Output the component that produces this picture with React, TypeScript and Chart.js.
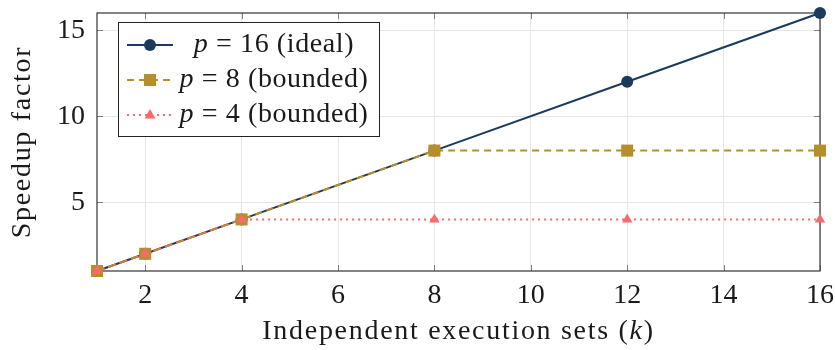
import React, { useEffect, useRef } from "react";
import { Chart, registerables } from "chart.js";

Chart.register(...registerables);

const xValues = [1, 2, 4, 8, 12, 16];
const idealSpeedup = [1, 2, 4, 8, 12, 16];
const bounded8 = [1, 2, 4, 8, 8, 8];
const bounded4 = [1, 2, 4, 4, 4, 4];
const xTicks = [2, 4, 6, 8, 10, 12, 14, 16];
const yTicks = [5, 10, 15];
const seriesNames = [" = 16 (ideal)", " = 8 (bounded)", " = 4 (bounded)"];

const NAVY = "#1b3a5e";
const GOLD = "#b68f2c";
const RED = "#f76b6b";
const FONT = "Liberation Serif";
const FS = 28;

function drawMarker(ctx: CanvasRenderingContext2D, style: string, x: number, y: number, color: string) {
  ctx.save();
  ctx.fillStyle = color;
  ctx.beginPath();
  if (style === "circle") {
    ctx.arc(x, y, 6, 0, Math.PI * 2);
  } else if (style === "rect") {
    ctx.rect(x - 6, y - 6, 12, 12);
  } else {
    ctx.moveTo(x, y - 6);
    ctx.lineTo(x + 5.5, y + 3.5);
    ctx.lineTo(x - 5.5, y + 3.5);
    ctx.closePath();
  }
  ctx.fill();
  ctx.restore();
}

const decorPlugin = {
  id: "decor",
  beforeDatasetsDraw(chart: any) {
    const { ctx, chartArea } = chart;
    const { left, right, top, bottom } = chartArea;
    const xs = chart.scales.x;
    const ys = chart.scales.y;
    ctx.save();
    ctx.strokeStyle = "#808080";
    ctx.lineWidth = 1;
    const tl = 6;
    ctx.beginPath();
    xTicks.forEach((v) => {
      const px = Math.round(xs.getPixelForValue(v)) + 0.5;
      ctx.moveTo(px, bottom);
      ctx.lineTo(px, bottom - tl);
      ctx.moveTo(px, top);
      ctx.lineTo(px, top + tl);
    });
    yTicks.forEach((v) => {
      const py = Math.round(ys.getPixelForValue(v)) + 0.5;
      ctx.moveTo(left, py);
      ctx.lineTo(left + tl, py);
      ctx.moveTo(right, py);
      ctx.lineTo(right - tl, py);
    });
    ctx.stroke();
    ctx.strokeStyle = "#333333";
    ctx.lineWidth = 1.2;
    ctx.strokeRect(left, top, right - left, bottom - top);
    ctx.restore();
  },
  afterDraw(chart: any) {
    const { ctx, chartArea } = chart;
    ctx.save();
    ctx.fillStyle = "#1a1a1a";
    ctx.textBaseline = "middle";
    // x title with italic k
    ctx.letterSpacing = "1.7px";
    const parts: [string, string][] = [
      ["Independent execution sets (", "normal"],
      ["k", "italic"],
      [")", "normal"],
    ];
    let total = 0;
    parts.forEach(([t, s]) => {
      ctx.font = `${s} ${FS}px "${FONT}"`;
      total += ctx.measureText(t).width;
    });
    let cx = (chartArea.left + chartArea.right) / 2 - total / 2;
    parts.forEach(([t, s]) => {
      ctx.font = `${s} ${FS}px "${FONT}"`;
      ctx.textAlign = "left";
      ctx.fillText(t, cx, 332);
      cx += ctx.measureText(t).width;
    });
    // y title
    ctx.save();
    ctx.translate(23, (chartArea.top + chartArea.bottom) / 2);
    ctx.rotate(-Math.PI / 2);
    ctx.font = `normal ${FS}px "${FONT}"`;
    ctx.textAlign = "center";
    ctx.fillText("Speedup factor", 0, 0);
    ctx.restore();

    // legend
    ctx.letterSpacing = "0.6px";
    const bx = 118.5, by = 22.5, bw = 261, bh = 114;
    ctx.fillStyle = "#ffffff";
    ctx.fillRect(bx, by, bw, bh);
    ctx.strokeStyle = "#222222";
    ctx.lineWidth = 1;
    ctx.strokeRect(bx, by, bw, bh);
    const rows = [45, 80, 115];
    chart.data.datasets.forEach((ds: any, i: number) => {
      const y = rows[i];
      ctx.save();
      ctx.strokeStyle = ds.borderColor;
      ctx.lineWidth = ds.borderWidth;
      ctx.setLineDash(ds.borderDash || []);
      ctx.beginPath();
      ctx.moveTo(127, y);
      ctx.lineTo(173, y);
      ctx.stroke();
      ctx.restore();
      drawMarker(ctx, ds.pointStyle, 150, y, ds.borderColor);
      ctx.fillStyle = "#1a1a1a";
      ctx.font = `italic ${FS}px "${FONT}"`;
      const w1 = ctx.measureText("p").width;
      ctx.font = `normal ${FS}px "${FONT}"`;
      const w2 = ctx.measureText(seriesNames[i]).width;
      const tx = 274 - (w1 + w2) / 2;
      ctx.textAlign = "left";
      ctx.font = `italic ${FS}px "${FONT}"`;
      ctx.fillText("p", tx, y);
      ctx.font = `normal ${FS}px "${FONT}"`;
      ctx.fillText(seriesNames[i], tx + w1, y);
    });
    ctx.restore();
  },
};

export default function App() {
  const ref = useRef<HTMLCanvasElement | null>(null);
  useEffect(() => {
    if (!ref.current) return;
    const toPts = (ys: number[]) => xValues.map((x, i) => ({ x, y: ys[i] }));
    const chart = new Chart(ref.current, {
      type: "line",
      data: {
        datasets: [
          {
            label: "p = 16 (ideal)",
            data: toPts(idealSpeedup),
            borderColor: NAVY,
            backgroundColor: NAVY,
            borderWidth: 2,
            pointStyle: "circle",
            pointRadius: 6,
            pointBorderWidth: 0,
            clip: false,
            order: 3,
          },
          {
            label: "p = 8 (bounded)",
            data: toPts(bounded8),
            borderColor: GOLD,
            backgroundColor: GOLD,
            borderWidth: 2,
            borderDash: [7, 5],
            pointStyle: "rect",
            pointRadius: 8.5,
            pointBorderWidth: 0,
            clip: false,
            order: 2,
          },
          {
            label: "p = 4 (bounded)",
            data: toPts(bounded4),
            borderColor: RED,
            backgroundColor: RED,
            borderWidth: 2,
            borderDash: [2, 4],
            pointStyle: "triangle",
            pointRadius: 6,
            pointBorderWidth: 0,
            clip: false,
            order: 1,
          },
        ] as any,
      },
      options: {
        animation: false,
        responsive: false,
        maintainAspectRatio: false,
        layout: { padding: { top: 13, right: 15, left: 0, bottom: 0 } },
        plugins: { legend: { display: false }, tooltip: { enabled: false } },
        scales: {
          x: {
            type: "linear",
            min: 1,
            max: 16,
            afterBuildTicks: (s: any) => {
              s.ticks = xTicks.map((v) => ({ value: v }));
            },
            afterFit: (s: any) => {
              s.height = 79;
              s.paddingLeft = 0;
              s.paddingRight = 0;
            },
            grid: { color: "#e6e6e6", drawTicks: false },
            border: { display: false },
            ticks: {
              padding: 8,
              color: "#1a1a1a",
              font: { family: FONT, size: FS },
              maxRotation: 0,
            },
          },
          y: {
            type: "linear",
            min: 1,
            max: 16,
            afterBuildTicks: (s: any) => {
              s.ticks = yTicks.map((v) => ({ value: v }));
            },
            afterFit: (s: any) => {
              s.width = 97;
              s.paddingTop = 0;
              s.paddingBottom = 0;
            },
            grid: { color: "#e6e6e6", drawTicks: false },
            border: { display: false },
            ticks: {
              padding: 12,
              color: "#1a1a1a",
              font: { family: FONT, size: FS },
            },
          },
        },
      },
      plugins: [decorPlugin],
    });
    return () => chart.destroy();
  }, []);
  return (
    <div style={{ position: "fixed", left: 0, top: 0, width: 835, height: 350, background: "#fff" }}>
      <canvas ref={ref} width={835} height={350} style={{ width: 835, height: 350 }} />
    </div>
  );
}
